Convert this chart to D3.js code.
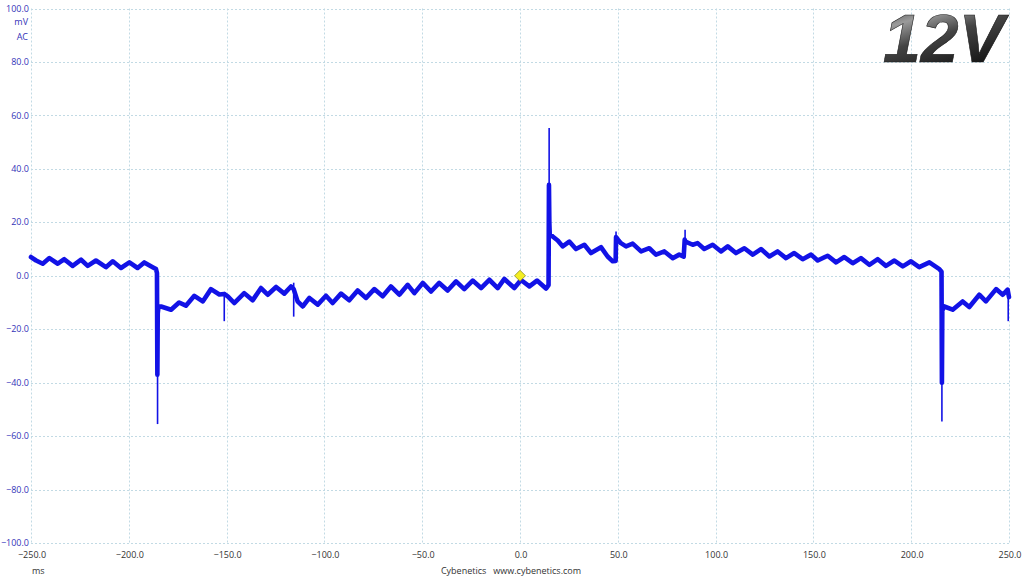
<!DOCTYPE html>
<html>
<head>
<meta charset="utf-8">
<script src="https://cdn.jsdelivr.net/npm/d3@7/dist/d3.min.js"></script>
<style>
  html, body { margin: 0; padding: 0; background: #ffffff; }
  svg { display: block; }
</style>
</head>
<body>
<svg id="chart" width="1024" height="576"></svg>
<script>
// ---------------- DATA ----------------
const xTicks = [-250, -200, -150, -100, -50, 0, 50, 100, 150, 200, 250];
const yTicks = [100, 80, 60, 40, 20, 0, -20, -40, -60, -80, -100];
const xUnit = "ms";
const yUnit = ["mV", "AC"];
const footer = "Cybenetics   www.cybenetics.com";
const railLabel = "12V";

// trace: time (ms) and ripple voltage (mV)
const traceT = [
  -250, -247.4, -244.0, -240.6, -236.3, -233.0, -228.7, -224.4, -221.0, -216.8,
  -211.7, -208.2, -204.0, -199.7, -195.5, -192.1, -187.8, -186.1,
  -185.6, -185.4, -185.2, -184.8,
  -183.5, -178.4, -174.3, -170.8, -166.5, -162.2, -158.0, -153.7, -151.2, -149.4,
  -146.1, -141.0, -136.7, -132.4, -129.0, -124.7, -120.5, -117.1, -115.7, -113.7,
  -111.1, -107.7, -103.4, -99.2, -95.8, -91.5, -87.3, -83.0, -78.7, -74.5,
  -70.2, -66.0, -61.7, -57.4, -54.0, -49.7, -45.5, -41.3, -37.0, -32.7,
  -28.5, -24.2, -19.9, -15.7, -11.4, -8.0, -2.9, 0.5, 4.8, 8.7, 13.3, 14.6,
  14.8, 15.0, 15.2,
  16.7, 19.3, 21.8, 25.2, 28.6, 32.9, 36.3, 41.4, 44.8, 47.4, 48.9, 49.1,
  50.1, 51.6, 54.2, 57.6, 61.9, 66.1, 69.5, 73.8, 78.1, 81.4, 83.7, 84.2, 84.6,
  88.3, 90.8, 94.2, 98.5, 102.8, 106.2, 110.4, 114.7, 119.0, 123.2,
  127.5, 131.7, 136.0, 140.2, 144.5, 148.8, 152.2, 157.3, 161.6, 165.8,
  170.1, 174.3, 178.6, 182.9, 187.1, 191.4, 195.7, 199.9, 204.1, 209.3, 214.4,
  215.5, 215.7, 215.9,
  216.9, 221.2, 226.3, 229.7, 234.8, 238.2, 243.4, 246.8, 249.3, 250
];
const traceV = [
  7.0, 5.7, 4.5, 6.6, 4.5, 6.2, 3.7, 6.0, 3.7, 5.7,
  3.2, 5.4, 2.9, 5.0, 2.9, 5.0, 3.2, 2.5,
  1.0, -37, -14, -11.5,
  -11.5, -12.7, -10.0, -11.2, -7.5, -9.6, -5.0, -7.0, -6.8, -7.7,
  -10.2, -6.5, -9.2, -4.6, -7.1, -4.2, -6.7, -4.0, -5.0, -9.6,
  -11.5, -8.3, -10.8, -7.5, -10.2, -6.7, -9.2, -5.5, -8.3, -5.0,
  -7.7, -4.0, -7.1, -3.4, -6.5, -2.7, -5.9, -2.7, -5.5, -2.1,
  -5.0, -1.8, -4.6, -1.5, -4.6, -1.2, -4.6, -1.6, -4.0, -1.8, -4.8, -3.5,
  34, 20, 15.5,
  14.7, 13.2, 11.0, 12.8, 10.0, 11.6, 8.5, 10.7, 7.2, 5.4, 5.5, 14.5,
  13.5, 12.2, 11.0, 12.0, 9.1, 10.3, 7.9, 9.1, 6.6, 7.9, 7.2, 13.5, 12.8,
  11.6, 12.2, 10.0, 11.6, 9.1, 11.0, 8.5, 10.3, 7.9, 10.0,
  7.2, 9.1, 6.6, 8.5, 6.2, 7.9, 5.7, 7.5, 5.0, 7.0,
  4.7, 6.6, 4.1, 6.2, 3.7, 5.7, 3.5, 5.4, 3.2, 5.0, 2.5,
  1.5, -40, -13,
  -11.5, -12.7, -9.6, -11.7, -7.1, -9.6, -5.0, -7.1, -5.2, -8.0
];

// thin transient spikes: time, from (mV), to (mV)
const spikeT    = [-185.3, -151.2, -115.7, 14.9, 49.1, 84.4, 215.7, 249.6];
const spikeFrom = [-37,    -6.5,   -2.6,   34,   13,   12.5, -40,   -5];
const spikeTo   = [-55.5,  -17,    -15.3,  55.3, 16.6, 17.2, -54.5, -17];

// trigger marker
const markerT = 0, markerV = 0;

// ---------------- CHART ----------------
const svg = d3.select("#chart");
const x = d3.scaleLinear().domain([-250, 250]).range([31, 1009]);
const y = d3.scaleLinear().domain([-100, 100]).range([543, 8.5]);

const gridColor = "#c2dae4";
const traceColor = "#1212e6";

// defs for 12V gradient
const defs = svg.append("defs");
const grad = defs.append("linearGradient").attr("id", "metal")
  .attr("x1", "0%").attr("y1", "0%").attr("x2", "50%").attr("y2", "100%");
grad.append("stop").attr("offset", "0%").attr("stop-color", "#303030");
grad.append("stop").attr("offset", "30%").attr("stop-color", "#9a9a9a");
grad.append("stop").attr("offset", "55%").attr("stop-color", "#444444");
grad.append("stop").attr("offset", "100%").attr("stop-color", "#141414");

// grid
const grid = svg.append("g");
grid.selectAll("line.h").data(yTicks).join("line")
  .attr("x1", x(-250)).attr("x2", x(250))
  .attr("y1", d => Math.round(y(d)) + 0.5).attr("y2", d => Math.round(y(d)) + 0.5)
  .attr("stroke", gridColor).attr("stroke-width", 1).attr("stroke-dasharray", "2,2");
grid.selectAll("line.v").data(xTicks).join("line")
  .attr("y1", y(100)).attr("y2", y(-100))
  .attr("x1", d => Math.round(x(d)) + 0.5).attr("x2", d => Math.round(x(d)) + 0.5)
  .attr("stroke", gridColor).attr("stroke-width", 1).attr("stroke-dasharray", "2,2");

// y labels
const yLab = svg.append("g").attr("font-family", "'Open Sans', sans-serif")
  .attr("font-size", 9).attr("fill", "#3434b8").attr("text-anchor", "end");
yLab.selectAll("text.t").data(yTicks).join("text")
  .attr("x", 29).attr("y", d => y(d)).attr("dy", "0.35em")
  .text(d => d3.format(".1f")(d));
yLab.selectAll("text.u").data(yUnit).join("text")
  .attr("x", 28).attr("y", (d, i) => 22 + i * 15).attr("dy", "0.35em")
  .text(d => d);

// x labels
const xLab = svg.append("g").attr("font-family", "'Open Sans', sans-serif")
  .attr("font-size", 9).attr("fill", "#333333");
xLab.selectAll("text").data(xTicks).join("text")
  .attr("x", d => x(d) + 1).attr("y", 554.5).attr("dy", "0.35em")
  .attr("text-anchor", "middle")
  .text(d => d3.format(".1f")(d));
xLab.append("text").attr("x", 32).attr("y", 570.5).attr("dy", "0.35em").text(xUnit);
xLab.append("text").attr("x", 511).attr("y", 570.5).attr("dy", "0.35em")
  .attr("text-anchor", "middle").attr("xml:space", "preserve").style("white-space", "pre")
  .text(footer);

// trace
const pts = traceT.map((t, i) => [t, traceV[i]]);
const line = d3.line().x(d => x(d[0])).y(d => y(d[1]));
svg.append("path").datum(pts)
  .attr("d", line)
  .attr("fill", "none").attr("stroke", traceColor)
  .attr("stroke-width", 4.6).attr("stroke-linejoin", "round").attr("stroke-linecap", "round");

// spikes
svg.append("g").selectAll("line").data(spikeT).join("line")
  .attr("x1", d => x(d)).attr("x2", d => x(d))
  .attr("y1", (d, i) => y(spikeFrom[i])).attr("y2", (d, i) => y(spikeTo[i]))
  .attr("stroke", traceColor).attr("stroke-width", 1.6);

// trigger marker
const mx = x(markerT), my = y(markerV);
svg.append("path")
  .attr("d", `M${mx},${my - 5.5}L${mx + 5.5},${my}L${mx},${my + 5.5}L${mx - 5.5},${my}Z`)
  .attr("fill", "#f4ee22").attr("stroke", "#8a8a20").attr("stroke-width", 0.8);

// 12V label
svg.append("text")
  .attr("x", 1004).attr("y", 62)
  .attr("text-anchor", "end")
  .attr("font-family", "'Liberation Sans', Arial, sans-serif")
  .attr("font-weight", "bold").attr("font-style", "italic")
  .attr("font-size", 68)
  .attr("fill", "url(#metal)").attr("stroke", "#1a1a1a").attr("stroke-width", 0.6)
  .text(railLabel);
</script>
</body>
</html>
